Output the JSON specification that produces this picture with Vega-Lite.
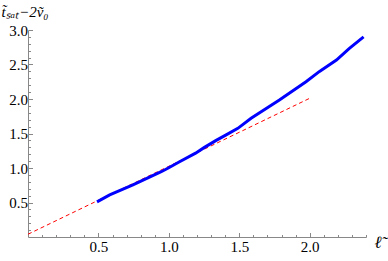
{
  "$schema": "https://vega.github.io/schema/vega-lite/v6.json",
  "width": 338,
  "height": 207,
  "autosize": {"type": "none"},
  "padding": {"left": 28, "top": 30, "right": 22, "bottom": 24},
  "config": {"view": {"stroke": null}, "axis": {"grid": false, "labelOverlap": false, "labelFont": "Liberation Serif", "titleFont": "Liberation Serif"}},
  "encoding": {
    "x": {
      "field": "x", "type": "quantitative",
      "scale": {"domain": [0, 2.4], "nice": false, "zero": true},
      "axis": {
        "values": [0.1,0.2,0.3,0.4,0.5,0.6,0.7,0.8,0.9,1.0,1.1,1.2,1.3,1.4,1.5,1.6,1.7,1.8,1.9,2.0,2.1,2.2,2.3,2.4],
        "labelExpr": "abs(datum.value*2 - round(datum.value*2)) < 0.001 ? format(datum.value, '.1f') : ''",
        "labelOverlap": false,
        "tickSize": {"condition": {"test": "abs(datum.value*2 - round(datum.value*2)) < 0.001", "value": -4.5}, "value": -2.5},
        "tickColor": "#888888",
        "domainColor": "#888888",
        "labelFont": "Liberation Serif",
        "labelFontSize": 15,
        "labelColor": "#000000",
        "labelPadding": 7,
        "labelFlush": false,
        "title": "ℓ̃",
        "titleFont": "Liberation Serif",
        "titleFontStyle": "italic",
        "titleFontWeight": "normal",
        "titleFontSize": 17,
        "titleX": 346,
        "titleY": 5,
        "titleAlign": "left",
        "titleBaseline": "middle",
        "titleAngle": 0
      }
    },
    "y": {
      "field": "y", "type": "quantitative",
      "scale": {"domain": [0, 3.0], "nice": false, "zero": true},
      "axis": {
        "values": [0.1,0.2,0.3,0.4,0.5,0.6,0.7,0.8,0.9,1.0,1.1,1.2,1.3,1.4,1.5,1.6,1.7,1.8,1.9,2.0,2.1,2.2,2.3,2.4,2.5,2.6,2.7,2.8,2.9,3.0],
        "labelExpr": "abs(datum.value*2 - round(datum.value*2)) < 0.001 ? format(datum.value, '.1f') : ''",
        "labelOverlap": false,
        "tickSize": {"condition": {"test": "abs(datum.value*2 - round(datum.value*2)) < 0.001", "value": -4.5}, "value": -2.5},
        "tickColor": "#888888",
        "domainColor": "#888888",
        "labelFont": "Liberation Serif",
        "labelFontSize": 15,
        "labelColor": "#000000",
        "labelPadding": 5,
        "labelFlush": false,
        "title": "t̃ₛₐₜ−2ṽ₀",
        "titleFont": "Liberation Serif",
        "titleFontStyle": "italic",
        "titleFontWeight": "normal",
        "titleFontSize": 15,
        "titleAngle": 0,
        "titleX": -27,
        "titleY": -19,
        "titleAlign": "left",
        "titleBaseline": "middle"
      }
    }
  },
  "layer": [
    {
      "data": {"values": [
        {"x": 0.0, "y": 0.04},
        {"x": 2.0, "y": 2.01}
      ]},
      "mark": {"type": "line", "color": "#ff0000", "strokeWidth": 1, "strokeDash": [4, 3]}
    },
    {
      "data": {"values": [
        {"x": 0.49, "y": 0.51},
        {"x": 0.58, "y": 0.61},
        {"x": 0.745, "y": 0.754},
        {"x": 0.946, "y": 0.946},
        {"x": 0.993, "y": 0.996},
        {"x": 1.076, "y": 1.09},
        {"x": 1.19, "y": 1.215},
        {"x": 1.25, "y": 1.295},
        {"x": 1.336, "y": 1.4},
        {"x": 1.407, "y": 1.48},
        {"x": 1.49, "y": 1.575},
        {"x": 1.584, "y": 1.72},
        {"x": 1.785, "y": 1.985},
        {"x": 1.974, "y": 2.25},
        {"x": 2.07, "y": 2.4},
        {"x": 2.19, "y": 2.565},
        {"x": 2.28, "y": 2.73},
        {"x": 2.383, "y": 2.9}
      ]},
      "mark": {"type": "line", "color": "#0000ff", "strokeWidth": 3}
    }
  ]
}
